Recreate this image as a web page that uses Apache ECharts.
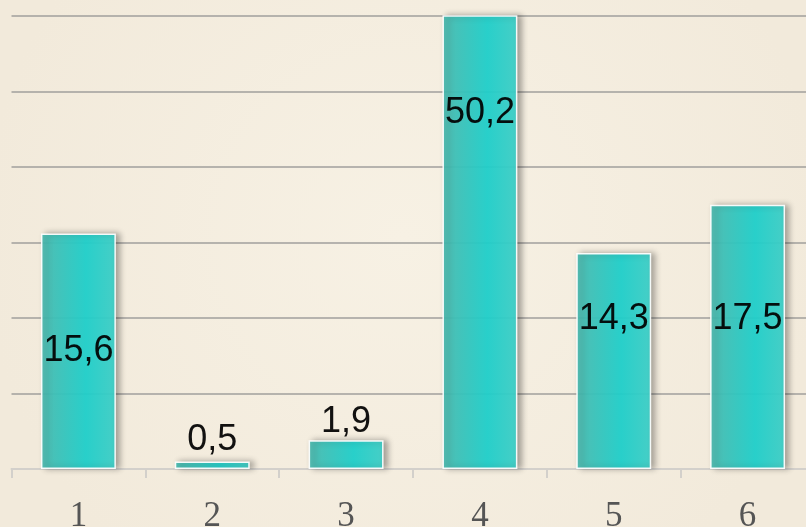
<!DOCTYPE html>
<html><head><meta charset="utf-8">
<script src="https://cdn.jsdelivr.net/npm/echarts@6/dist/echarts.min.js"></script>
<style>html,body{margin:0;padding:0;background:#f4ecdc;}#c{width:806px;height:527px;}</style>
</head><body><div id="c"></div>
<script>
const categories = ['1','2','3','4','5','6'];
const values = [15.6, 0.5, 1.9, 50.2, 14.3, 17.5];
const labelTexts = ['15,6','0,5','1,9','50,2','14,3','17,5'];

const chart = echarts.init(document.getElementById('c'));
const labelPlacement = [
  {position:'inside'},
  {position:'top', distance:3},
  {position:'top', distance:0},
  {position:['50%', 98], align:'center', verticalAlign:'middle'},
  {position:['50%', 66], align:'center', verticalAlign:'middle'},
  {position:['50%', 114], align:'center', verticalAlign:'middle'}
];
chart.setOption({
  backgroundColor: {
    type:'radial', x:0.5, y:0.45, r:0.8,
    colorStops:[{offset:0,color:'#f7f1e4'},{offset:1,color:'#f2eadb'}]
  },
  animation:false,
  grid:{left:11.5, width:803, top:16, bottom:58, containLabel:false, outerBoundsMode:'none'},
  xAxis:{
    type:'category', data:categories,
    axisLine:{lineStyle:{color:'#d3d0cb', width:2}},
    axisTick:{show:true, length:9, lineStyle:{color:'#d3d0cb', width:2}},
    axisLabel:{fontFamily:'Liberation Serif', fontSize:35, color:'#555555', margin:30}
  },
  yAxis:{
    type:'value', min:0, max:30, interval:5,
    axisLabel:{show:false}, axisLine:{show:false}, axisTick:{show:false},
    splitLine:{lineStyle:{color:'#a19f9c', width:1.5}}
  },
  series:[{
    type:'bar', barWidth:'56%', clip:true,
    data: values.map((v,i)=>({value:v, label:Object.assign({formatter:labelTexts[i]}, labelPlacement[i])})),
    itemStyle:{
      color:{type:'linear', x:0,y:0,x2:1,y2:0, colorStops:[
        {offset:0,color:'#4cbeb3'},{offset:0.6,color:'#1fd3ce'},{offset:1,color:'#3fd2ca'}]},
      borderColor:'#ffffff', borderWidth:1.5, opacity:0.93,
      shadowColor:'rgba(0,0,0,0.35)', shadowBlur:6, shadowOffsetX:4, shadowOffsetY:0
    },
    label:{show:true, fontFamily:'Liberation Sans', fontSize:36, color:'#000000'}
  }]
});
</script></body></html>
